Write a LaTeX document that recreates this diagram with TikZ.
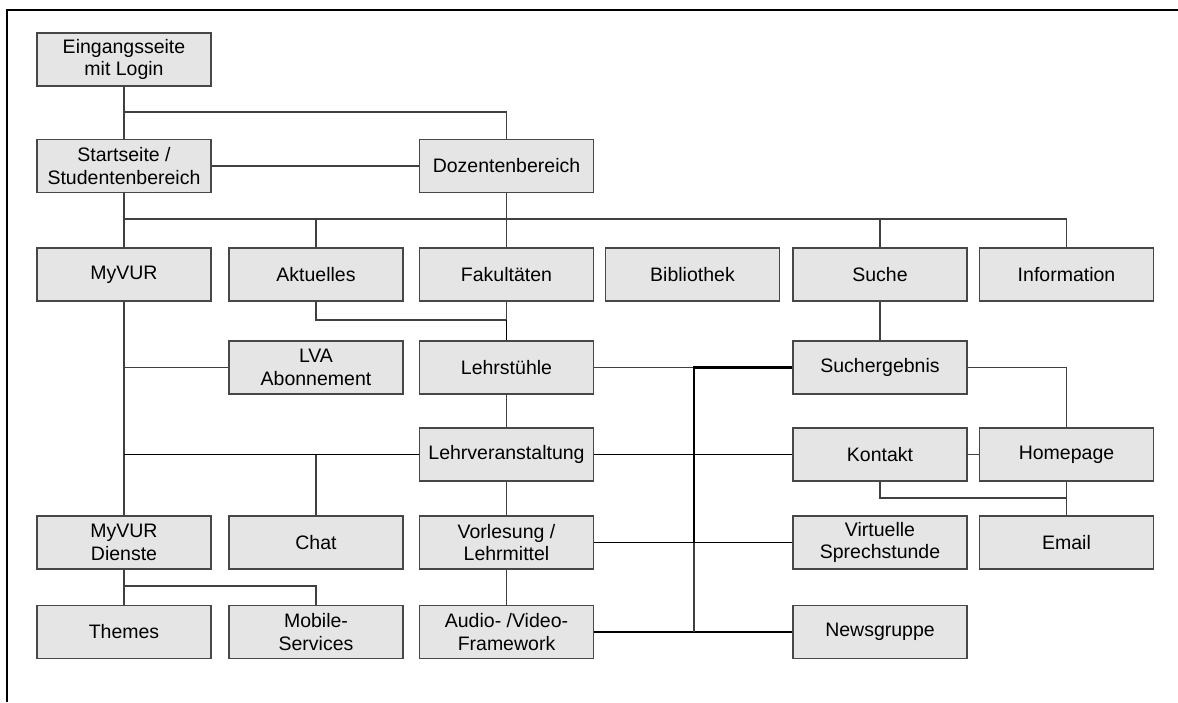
\documentclass[tikz,border=0pt]{standalone}
\usepackage{fontspec}
\setmainfont{Liberation Sans}
\begin{document}
\begin{tikzpicture}[x=1pt,y=-1pt,
  box/.style={draw=black!72,fill=black!10,line width=1.2pt,minimum width=174pt,
    minimum height=53pt,inner sep=0pt,align=center,
    font=\fontsize{19.5}{22.5}\selectfont},
  conn/.style={draw=black!75,line width=1.1pt},
  bus/.style={draw=black,line width=2.2pt},
  frame/.style={draw=black,line width=2.6pt}]
\useasboundingbox (0,0) rectangle (1178,702);
% page frame (top and left edges)
\draw[frame] (1178,10) -- (7,10) -- (7,702);

% column and row positions
\def\ca{124}\def\cb{316}\def\cc{506.5}\def\cd{692.5}\def\ce{880}\def\cf{1066.5}
\def\ra{59.5}\def\rb{166}\def\rc{274.5}\def\rd{367.5}\def\re{454.5}\def\rf{542.5}\def\rg{632}

\node[box] (ein) at (\ca,\ra) {Eingangsseite\\mit Login};
\node[box] (start) at (\ca,\rb) {Startseite /\\Studentenbereich};
\node[box] (doz) at (\cc,\rb) {Dozentenbereich};

\node[box] (myvur) at (\ca,\rc) {MyVUR};
\node[box] (akt) at (\cb,\rc) {Aktuelles};
\node[box] (fak) at (\cc,\rc) {Fakultäten};
\node[box] (bib) at (\cd,\rc) {Bibliothek};
\node[box] (suche) at (\ce,\rc) {Suche};
\node[box] (info) at (\cf,\rc) {Information};

\node[box] (lva) at (\cb,\rd) {LVA\\Abonnement};
\node[box] (lehr) at (\cc,\rd) {Lehrstühle};
\node[box] (sucherg) at (\ce,\rd) {Suchergebnis};

\node[box] (lv) at (\cc,\re) {Lehrveranstaltung};
\node[box] (kontakt) at (\ce,\re) {Kontakt};
\node[box] (home) at (\cf,\re) {Homepage};

\node[box] (dienste) at (\ca,\rf) {MyVUR\\Dienste};
\node[box] (chat) at (\cb,\rf) {Chat};
\node[box] (vorl) at (\cc,\rf) {Vorlesung /\\Lehrmittel};
\node[box] (virt) at (\ce,\rf) {Virtuelle\\Sprechstunde};
\node[box] (email) at (\cf,\rf) {Email};

\node[box] (themes) at (\ca,\rg) {Themes};
\node[box] (mobile) at (\cb,\rg) {Mobile-\\Services};
\node[box] (audio) at (\cc,\rg) {Audio- /Video-\\Framework};
\node[box] (news) at (\ce,\rg) {Newsgruppe};

% junction levels
\coordinate (h1) at (0,112);
\coordinate (h2) at (0,219);
\coordinate (h3) at (0,320);
\coordinate (h5) at (0,498);
\coordinate (h6) at (0,586);
\coordinate (vbus) at (694,0);

% top levels
\draw[conn] (ein.south) -- (start.north);
\draw[conn] (ein.south |- h1) -| (doz.north);
\draw[conn] (start.east) -- (doz.west);

% main navigation
\draw[conn] (start.south) -- (myvur.north);
\draw[conn] (doz.south) -- (fak.north);
\draw[conn] (start.south |- h2) -- (info.north |- h2) -- (info.north);
\draw[conn] (akt.north |- h2) -- (akt.north);
\draw[conn] (suche.north |- h2) -- (suche.north);

% Aktuelles / Fakultaeten to Lehrstuehle
\draw[conn] (akt.south) -- (akt.south |- h3) -- (fak.south |- h3);
\draw[conn] (fak.south) -- (fak.south |- h3);
\draw[conn,draw=black] (fak.south |- h3) -- (lehr.north);

% MyVUR branch
\draw[conn] (myvur.south) -- (dienste.north);
\draw[conn] (myvur.south |- lva.west) -- (lva.west);
\draw[conn,draw=black] (myvur.south |- lv.west) -- (lv.west);
\draw[conn] (chat.north |- lv.west) -- (chat.north);
\draw[conn] (dienste.south) -- (themes.north);
\draw[conn] (dienste.south |- h6) -| (mobile.north);

% teaching column
\draw[conn] (lehr.south) -- (lv.north);
\draw[conn] (lv.south) -- (vorl.north);
\draw[conn] (vorl.south) -- (audio.north);

% cross links to the right
\draw[conn] (lehr.east) -- (lehr.east -| vbus);
\draw[conn,draw=black] (lv.east) -- (kontakt.west);
\draw[conn,draw=black] (vorl.east) -- (virt.west);
\draw[conn,draw=black] (audio.east) -- (news.west);
\draw[conn] (vbus |- virt.west) -- (vbus |- news.west);
\draw[bus] (sucherg.west) -- (vbus |- sucherg.west) -- (vbus |- virt.west);

% search and contact
\draw[conn] (suche.south) -- (sucherg.north);
\draw[conn] (sucherg.east) -| (home.north);
\draw[conn] (kontakt.east) -- (home.west);
\draw[conn] (kontakt.south) -- (kontakt.south |- h5) -- (home.south |- h5);
\draw[conn] (home.south) -- (email.north);
\end{tikzpicture}
\end{document}
